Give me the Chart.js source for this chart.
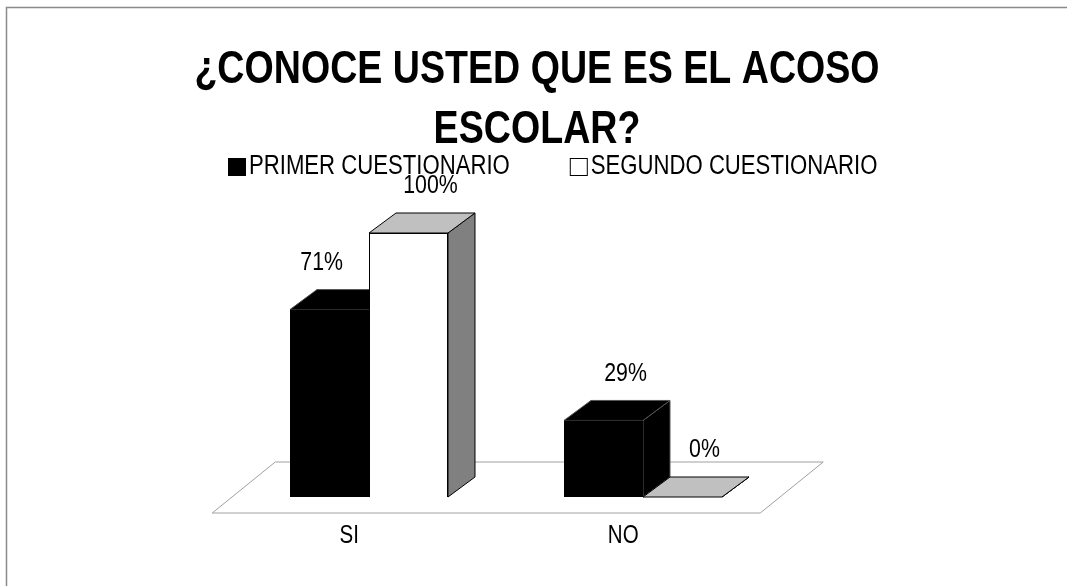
<!DOCTYPE html>
<html>
<head>
<meta charset="utf-8">
<script src="https://cdn.jsdelivr.net/npm/chart.js@4"></script>
<style>
  body { margin: 0; background: #fff; }
  #chart { display: block; }
</style>
</head>
<body>
<canvas id="chart" width="1067" height="586"></canvas>
<script>
const categories = ["SI", "NO"];
const seriesNames = ["PRIMER CUESTIONARIO", "SEGUNDO CUESTIONARIO"];
const primerValues = [71, 29];
const segundoValues = [100, 0];
const titleLines = ["¿CONOCE USTED QUE ES EL ACOSO", "ESCOLAR?"];

// no narrow face installed, so Liberation Sans is squeezed sideways
const FONT = "'Liberation Sans', Arial, sans-serif";
const SQUEEZE = 0.82;
const DEPTH_X = 27, DEPTH_Y = -20;        // bar depth
const FLOOR_X = 63, FLOOR_Y = -51;        // floor depth
const FLOOR_FRONT = 16;                   // floor front edge below bar fronts
const faces = [
  { top: "#000000", side: "#000000", edge: "#555555" },
  { top: "#c0c0c0", side: "#808080", edge: "#000000" },
];

const poly = (ctx, pts, fill, stroke) => {
  ctx.beginPath();
  ctx.moveTo(pts[0][0], pts[0][1]);
  pts.slice(1).forEach((p) => ctx.lineTo(p[0], p[1]));
  ctx.closePath();
  ctx.fillStyle = fill;
  ctx.fill();
  if (stroke) {
    ctx.strokeStyle = stroke;
    ctx.lineWidth = 1;
    ctx.stroke();
  }
};

const narrowText = (ctx, text, x, y, font, align, sx) => {
  ctx.save();
  ctx.translate(x, y);
  ctx.scale(sx || SQUEEZE, 1);
  ctx.font = font;
  ctx.fillStyle = "#000";
  ctx.textAlign = align;
  ctx.textBaseline = "middle";
  ctx.fillText(text, 0, 0);
  ctx.restore();
};

const narrowWidth = (ctx, text, font) => {
  ctx.save();
  ctx.font = font;
  const w = ctx.measureText(text).width * SQUEEZE;
  ctx.restore();
  return w;
};

const chart3d = {
  id: "chart3d",
  beforeDraw(chart) {
    const ctx = chart.ctx;
    ctx.save();
    ctx.fillStyle = "#fff";
    ctx.fillRect(0, 0, chart.width, chart.height);
    ctx.strokeStyle = "#8a8a8a";
    ctx.lineWidth = 1.5;
    ctx.strokeRect(6.5, 7.5, chart.width + 20, chart.height + 20);
    ctx.restore();
  },
  beforeDatasetsDraw(chart) {
    const ctx = chart.ctx;
    const xs = chart.scales.x;
    const base = chart.scales.y.getPixelForValue(0);
    const shift = FLOOR_FRONT * FLOOR_X / -FLOOR_Y;
    const fy = base + FLOOR_FRONT;
    const fl = xs.left - shift, fr = xs.right - shift;
    ctx.save();
    poly(ctx, [[fl, fy], [fr, fy], [fr + FLOOR_X, fy + FLOOR_Y], [fl + FLOOR_X, fy + FLOOR_Y]], "#ffffff", "#a0a0a0");
    // top and side faces, fronts are drawn by the library on top
    categories.forEach((c, i) => {
      chart.data.datasets.forEach((ds, d) => {
        const bar = chart.getDatasetMeta(d).data[i];
        const l = bar.x - bar.width / 2, r = bar.x + bar.width / 2;
        const f = faces[d];
        poly(ctx, [[r, bar.y], [r + DEPTH_X, bar.y + DEPTH_Y], [r + DEPTH_X, bar.base + DEPTH_Y], [r, bar.base]], f.side, f.edge);
        poly(ctx, [[l, bar.y], [r, bar.y], [r + DEPTH_X, bar.y + DEPTH_Y], [l + DEPTH_X, bar.y + DEPTH_Y]], f.top, f.edge);
      });
    });
    ctx.restore();
  },
  afterDatasetsDraw(chart) {
    const ctx = chart.ctx;
    const xs = chart.scales.x;
    const base = chart.scales.y.getPixelForValue(0);
    const shift = FLOOR_FRONT * FLOOR_X / -FLOOR_Y;
    const labelFont = "26px " + FONT;

    // value labels, pushed left when the next bar is taller
    chart.data.datasets.forEach((ds, d) => {
      chart.getDatasetMeta(d).data.forEach((bar, i) => {
        const text = ds.data[i] + "%";
        const w = narrowWidth(ctx, text, labelFont);
        const y = bar.y + DEPTH_Y - 27;
        let x = bar.x + 22;
        const next = chart.getDatasetMeta(d + 1);
        if (next && next.data && next.data[i]) {
          const nb = next.data[i];
          if (nb.y < y + 12) x = Math.min(x, nb.x - nb.width / 2 - 26 - w / 2);
        }
        narrowText(ctx, text, x, y, labelFont, "center");
      });
    });

    // category labels on the floor front edge
    categories.forEach((c, i) => {
      narrowText(ctx, c, xs.getPixelForValue(i) - shift, base + 39, "25px " + FONT, "center");
    });

    // title
    const titleFont = "bold 47px " + FONT;
    titleLines.forEach((t, i) => {
      narrowText(ctx, t, 537, 70 + i * 60, titleFont, "center", 0.8);
    });

    // legend
    const legendFont = "27px " + FONT;
    let x = 228;
    const y = 167;
    chart.data.datasets.forEach((ds) => {
      ctx.save();
      ctx.fillStyle = ds.backgroundColor;
      ctx.fillRect(x, y - 9, 18, 18);
      ctx.strokeStyle = "#000";
      ctx.lineWidth = 1;
      ctx.strokeRect(x + 0.5, y - 8.5, 17, 17);
      ctx.restore();
      narrowText(ctx, ds.label, x + 21, y, legendFont, "left");
      x += 21 + narrowWidth(ctx, ds.label, legendFont) + 60;
    });
  },
};

new Chart(document.getElementById("chart"), {
  type: "bar",
  data: {
    labels: categories,
    datasets: [
      { label: seriesNames[0], data: primerValues, backgroundColor: "#000000", borderWidth: 0 },
      { label: seriesNames[1], data: segundoValues, backgroundColor: "#ffffff", borderColor: "#000000", borderWidth: 1 },
    ],
  },
  options: {
    responsive: false,
    animation: false,
    layout: { padding: { left: 7, top: 233, right: 0, bottom: 0 } },
    datasets: { bar: { categoryPercentage: 0.5766, barPercentage: 1 } },
    scales: {
      x: {
        grid: { display: false, drawTicks: false },
        border: { display: false },
        ticks: { display: false },
        afterFit: (s) => { s.height = 89; },
      },
      y: {
        min: 0,
        max: 100,
        grid: { display: false, drawTicks: false },
        border: { display: false },
        ticks: { display: false },
        afterFit: (s) => { s.width = 225; },
      },
      yRight: {
        type: "linear",
        position: "right",
        grid: { display: false, drawTicks: false },
        border: { display: false },
        ticks: { display: false },
        afterFit: (s) => { s.width = 287; },
      },
    },
    plugins: {
      legend: { display: false },
      tooltip: { enabled: false },
      title: { display: false },
    },
  },
  plugins: [chart3d],
});
</script>
</body>
</html>
